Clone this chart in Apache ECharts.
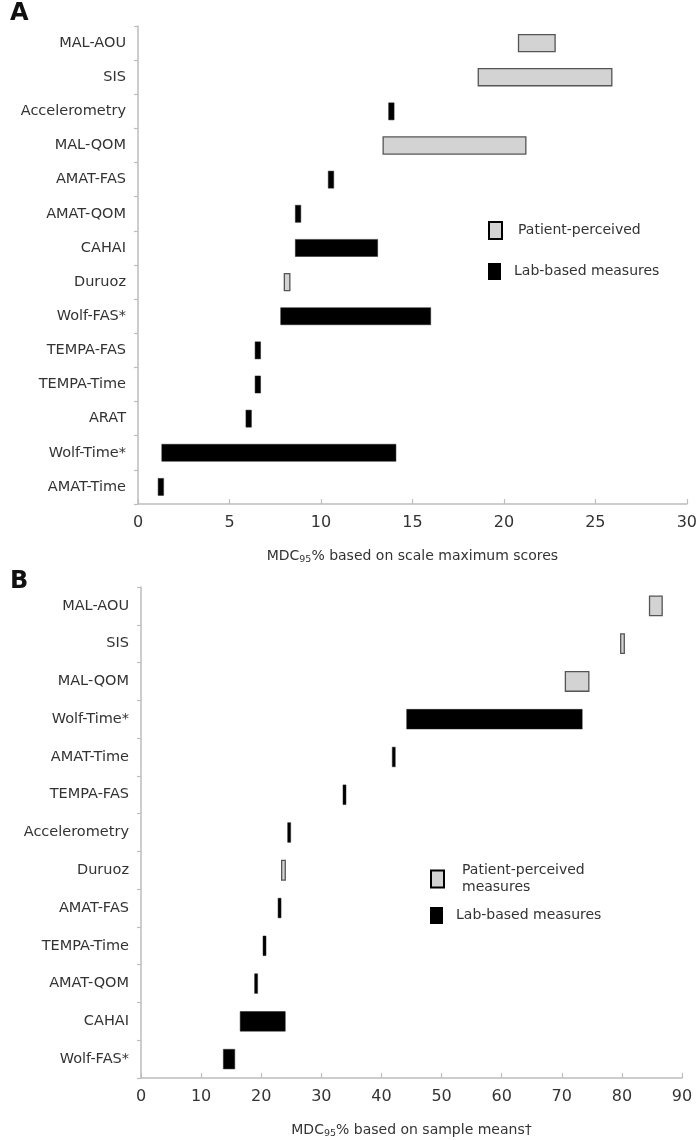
<!DOCTYPE html>
<html>
<head>
<meta charset="utf-8">
<title>MDC95% chart</title>
<script src="https://cdn.jsdelivr.net/npm/echarts@6/dist/echarts.min.js"></script>
<style>
  html, body { margin: 0; padding: 0; background: #fff; }
  #chart { width: 700px; height: 1140px; }
</style>
</head>
<body>
<div id="chart"></div>
<script>
// panel A - MDC95% based on scale maximum scores (top to bottom)
const catsA = ['MAL-AOU', 'SIS', 'Accelerometry', 'MAL-QOM', 'AMAT-FAS', 'AMAT-QOM', 'CAHAI',
  'Duruoz', 'Wolf-FAS*', 'TEMPA-FAS', 'TEMPA-Time', 'ARAT', 'Wolf-Time*', 'AMAT-Time'];
const lowA = [20.8, 18.6, 13.7, 13.4, 10.4, 8.6, 8.6, 8.0, 7.8, 6.4, 6.4, 5.9, 1.3, 1.1];
const highA = [22.8, 25.9, 14.0, 21.2, 10.7, 8.9, 13.1, 8.3, 16.0, 6.7, 6.7, 6.2, 14.1, 1.4];
const ticksA = [0, 5, 10, 15, 20, 25, 30];

// panel B - MDC95% based on sample means
const catsB = ['MAL-AOU', 'SIS', 'MAL-QOM', 'Wolf-Time*', 'AMAT-Time', 'TEMPA-FAS', 'Accelerometry',
  'Duruoz', 'AMAT-FAS', 'TEMPA-Time', 'AMAT-QOM', 'CAHAI', 'Wolf-FAS*'];
const lowB = [84.6, 79.8, 70.6, 44.2, 41.8, 33.6, 24.4, 23.4, 22.8, 20.3, 18.9, 16.5, 13.7];
const highB = [86.7, 80.4, 74.5, 73.4, 42.3, 34.1, 24.9, 24.0, 23.3, 20.8, 19.4, 24.0, 15.6];
const ticksB = [0, 10, 20, 30, 40, 50, 60, 70, 80, 90];

// patient-perceived measures, everything else is lab-based
const patientMeasures = ['MAL-AOU', 'SIS', 'MAL-QOM', 'Duruoz'];

const PATIENT = 'Patient-perceived';
const LAB = 'Lab-based measures';
const FONT = 'DejaVu Sans';

function rows(cats, low, high, patient) {
  const out = [];
  cats.forEach((c, i) => {
    if (patientMeasures.includes(c) === patient) out.push([low[i], high[i], i]);
  });
  return out;
}

// floating bar from low to high on the category row
function rangeBar(ratio) {
  return function (params, api) {
    const a = api.coord([api.value(0), api.value(2)]);
    const b = api.coord([api.value(1), api.value(2)]);
    const h = api.size([0, 1])[1] * ratio;
    return {
      type: 'rect',
      shape: { x: a[0], y: a[1] - h / 2, width: b[0] - a[0], height: h },
      style: api.style()
    };
  };
}

const patientStyle = { color: '#d3d3d3', borderColor: '#555', borderWidth: 1.3 };
const labStyle = { color: '#000', borderColor: '#222', borderWidth: 0.5 };

function xAxisFor(grid, ticks, name) {
  return {
    type: 'value',
    gridIndex: grid,
    min: ticks[0],
    max: ticks[ticks.length - 1],
    interval: ticks[1] - ticks[0],
    splitLine: { show: false },
    axisLine: { show: true, lineStyle: { color: '#bdbdbd', width: 1.5 } },
    axisTick: { show: true, inside: true, length: 5, lineStyle: { color: '#bdbdbd', width: 1.2 } },
    axisLabel: { fontFamily: FONT, fontSize: 16, color: '#333', margin: 11 },
    name: name,
    nameLocation: 'middle',
    nameGap: 43,
    nameTextStyle: {
      fontFamily: FONT,
      fontSize: 14,
      color: '#333',
      rich: {
        t: { fontFamily: FONT, fontSize: 14, color: '#333' },
        s: { fontFamily: FONT, fontSize: 9.5, color: '#333', padding: [8, 0, 0, 0] }
      }
    }
  };
}

function yAxisFor(grid, cats) {
  return {
    type: 'category',
    gridIndex: grid,
    data: cats,
    inverse: true,
    axisLine: { show: true, lineStyle: { color: '#bdbdbd', width: 1.5 } },
    axisTick: { show: true, length: 4, lineStyle: { color: '#bdbdbd', width: 1.2 } },
    axisLabel: { fontFamily: FONT, fontSize: 14.5, color: '#333', margin: 12 },
    splitLine: { show: false }
  };
}

function legendFor(name, left, top, padding, formatter) {
  return {
    left: left,
    top: top,
    padding: 0,
    selectedMode: false,
    itemWidth: 13,
    itemHeight: 17,
    icon: 'rect',
    formatter: formatter,
    textStyle: { fontFamily: FONT, fontSize: 14, color: '#333', lineHeight: 17, padding: padding },
    data: [{
      name: name,
      itemStyle: name === PATIENT
        ? { color: '#d3d3d3', borderColor: '#000', borderWidth: 2 }
        : { color: '#000', borderWidth: 0 }
    }]
  };
}

const myChart = echarts.init(document.getElementById('chart'), null, { renderer: 'canvas' });

myChart.setOption({
  animation: false,
  backgroundColor: '#fff',
  title: [
    { text: 'A', left: 10, top: 2, padding: 0, textStyle: { fontFamily: FONT, fontSize: 24, fontWeight: 'bold', color: '#111' } },
    { text: 'B', left: 10, top: 570, padding: 0, textStyle: { fontFamily: FONT, fontSize: 24, fontWeight: 'bold', color: '#111' } }
  ],
  grid: [
    { left: 138, top: 26, width: 551, height: 478 },
    { left: 141, top: 587, width: 541, height: 494 }
  ],
  xAxis: [
    xAxisFor(0, ticksA, '{t|MDC}{s|95}{t|% based on scale maximum scores}'),
    xAxisFor(1, ticksB, '{t|MDC}{s|95}{t|% based on sample means†}')
  ],
  yAxis: [yAxisFor(0, catsA), yAxisFor(1, catsB)],
  legend: [
    legendFor(PATIENT, 488, 218, [0, 0, 8, 11]),
    legendFor(LAB, 488, 263, [0, 0, 0, 8]),
    legendFor(PATIENT, 430, 856, [12, 0, 0, 13], n => n + '\nmeasures'),
    legendFor(LAB, 430, 907, [0, 0, 0, 8])
  ],
  series: [
    { type: 'custom', name: PATIENT, xAxisIndex: 0, yAxisIndex: 0, renderItem: rangeBar(0.5),
      itemStyle: patientStyle, encode: { x: [0, 1], y: 2 }, data: rows(catsA, lowA, highA, true) },
    { type: 'custom', name: LAB, xAxisIndex: 0, yAxisIndex: 0, renderItem: rangeBar(0.5),
      itemStyle: labStyle, encode: { x: [0, 1], y: 2 }, data: rows(catsA, lowA, highA, false) },
    { type: 'custom', name: PATIENT, xAxisIndex: 1, yAxisIndex: 1, renderItem: rangeBar(0.52),
      itemStyle: patientStyle, encode: { x: [0, 1], y: 2 }, data: rows(catsB, lowB, highB, true) },
    { type: 'custom', name: LAB, xAxisIndex: 1, yAxisIndex: 1, renderItem: rangeBar(0.52),
      itemStyle: labStyle, encode: { x: [0, 1], y: 2 }, data: rows(catsB, lowB, highB, false) }
  ]
});
</script>
</body>
</html>
